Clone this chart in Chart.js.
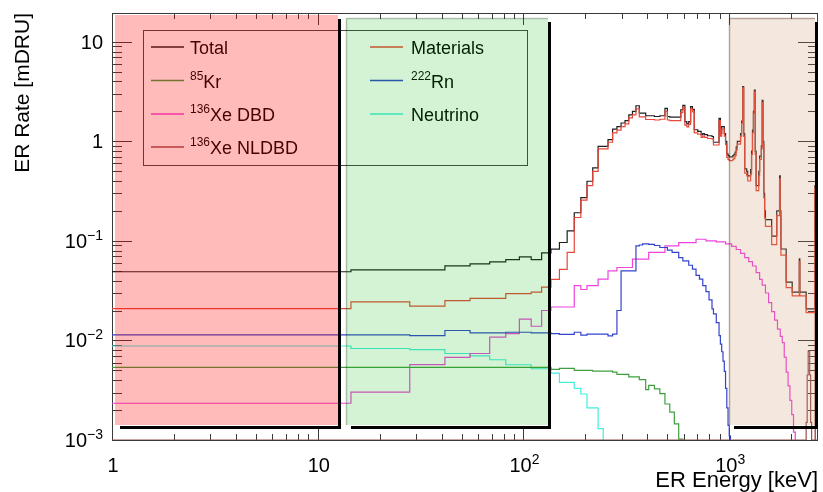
<!DOCTYPE html>
<html>
<head>
<meta charset="utf-8">
<script src="https://cdn.jsdelivr.net/npm/chart.js@4.4.0/dist/chart.umd.min.js"></script>
<style>
  html, body { margin: 0; padding: 0; background: #fff; }
  #wrap { width: 823px; height: 492px; }
</style>
</head>
<body>
<div id="wrap"><canvas id="erChart"></canvas></div>
<script>
// axis ranges
const xMin = 1, xMax = 2700;
const yMin = 1e-3, yMax = 19.5;

// tick labels
const xTickVals = [1, 10, 100, 1000];
const xTickBase = ["1", "10", "10", "10"];
const xTickExp = ["", "", "2", "3"];
const yTickVals = [1e-3, 1e-2, 1e-1, 1, 10];
const yTickBase = ["10", "10", "10", "1", "10"];
const yTickExp = ["\u22123", "\u22122", "\u22121", "", ""];

// series (bin left edge in keV, rate in mDRU)
const totalE = [1, 14.5, 41.5, 55, 68.5, 82, 95.5, 109, 122.5, 136, 149.5, 163, 176.5, 190, 203.5, 217, 230.5, 257.5, 271, 284.5, 298, 311.5, 325, 338.5, 352, 365.5, 392.5, 433, 460, 487, 500.5, 514, 581.5, 595, 608.5, 622, 635.5, 649, 662.5, 676, 703, 730, 743.5, 757, 784, 824.5, 838, 892, 905.5, 919, 946, 959.5, 973, 986.5, 1000, 1040.5, 1054, 1067.5, 1081, 1094.5, 1135, 1148.5, 1162, 1175.5, 1189, 1216, 1229.5, 1270, 1283.5, 1297, 1310.5, 1324, 1337.5, 1351, 1391.5, 1405, 1432, 1445.5, 1459, 1472.5, 1486, 1499.5, 1607.5, 1702, 1756, 1769.5, 1783, 1891, 2023, 2190, 2203.5, 2365, 2608, 2621.5, 2700];
const totalR = [0.049, 0.0513, 0.0562, 0.0589, 0.0617, 0.0649, 0.069, 0.0649, 0.076, 0.0826, 0.0964, 0.126, 0.192, 0.272, 0.398, 0.542, 0.891, 1.04, 1.33, 1.41, 1.53, 1.62, 1.85, 2.0, 2.28, 1.92, 1.81, 1.78, 1.81, 2.15, 1.78, 1.75, 2.08, 2.3, 1.58, 1.5, 1.58, 2.24, 2.1, 1.31, 1.26, 1.17, 1.2, 1.17, 1.14, 1.12, 0.98, 1.7, 1.2, 1.41, 1.2, 1.0, 0.75, 0.72, 0.7, 0.72, 0.74, 0.78, 0.88, 1.0, 1.2, 1.6, 3.55, 1.2, 0.53, 0.5, 0.45, 0.52, 0.8, 1.3, 2.0, 3.28, 0.8, 0.36, 0.5, 0.71, 0.9, 2.58, 1.0, 0.3, 0.2, 0.164, 0.112, 0.2, 0.45, 0.2, 0.083, 0.0385, 0.0306, 0.066, 0.0306, 0.0208, 0.36, 0.0005, 0.0005];

const materialsE = [1, 14.5, 28, 41.5, 55, 82, 109, 122.5, 136, 149.5, 163, 176.5, 190, 203.5, 217, 230.5, 257.5, 271, 284.5, 298, 311.5, 325, 338.5, 352, 365.5, 392.5, 433, 460, 487, 500.5, 514, 581.5, 595, 608.5, 622, 635.5, 649, 662.5, 676, 703, 730, 743.5, 757, 784, 824.5, 838, 892, 905.5, 919, 946, 959.5, 973, 986.5, 1000, 1040.5, 1054, 1067.5, 1081, 1094.5, 1135, 1148.5, 1162, 1175.5, 1189, 1216, 1229.5, 1270, 1283.5, 1297, 1310.5, 1324, 1337.5, 1351, 1391.5, 1405, 1432, 1445.5, 1459, 1472.5, 1486, 1499.5, 1607.5, 1702, 1756, 1769.5, 1783, 1891, 2023, 2190, 2203.5, 2365, 2608, 2621.5, 2700];
const materialsR = [0.0209, 0.0244, 0.0221, 0.0251, 0.0265, 0.0295, 0.0306, 0.0343, 0.0411, 0.0518, 0.0766, 0.172, 0.257, 0.36, 0.5, 0.84, 0.98, 1.22, 1.3, 1.41, 1.5, 1.72, 1.85, 2.12, 1.76, 1.66, 1.64, 1.67, 2.0, 1.64, 1.62, 1.95, 2.18, 1.46, 1.4, 1.48, 2.12, 1.98, 1.22, 1.18, 1.1, 1.13, 1.1, 1.07, 1.06, 0.92, 1.62, 1.13, 1.33, 1.13, 0.93, 0.69, 0.66, 0.64, 0.66, 0.68, 0.72, 0.82, 0.94, 1.13, 1.52, 3.45, 1.12, 0.48, 0.45, 0.4, 0.47, 0.74, 1.22, 1.9, 3.15, 0.74, 0.32, 0.45, 0.66, 0.84, 2.45, 0.93, 0.27, 0.17, 0.14, 0.092, 0.18, 0.42, 0.18, 0.072, 0.034, 0.028, 0.062, 0.028, 0.019, 0.34, 0.0005, 0.0005];

const krE = [1, 136, 149.5, 176.5, 217, 271, 284.5, 325, 365.5, 392.5, 406, 433, 460, 487, 514, 541, 568, 595, 2700];
const krR = [0.00537, 0.00512, 0.00524, 0.00501, 0.00493, 0.0048, 0.00457, 0.0043, 0.00405, 0.0032, 0.00354, 0.00327, 0.00292, 0.0023, 0.00191, 0.00145, 0.00102, 0.0002, 0.0002];

const rnE = [1, 28, 41.5, 55, 82, 109, 136, 149.5, 176.5, 190, 203.5, 257.5, 271, 284.5, 298, 352, 365.5, 379, 406, 433, 460, 500.5, 527.5, 568, 595, 635.5, 662.5, 689.5, 716.5, 743.5, 770.5, 797.5, 824.5, 838, 865, 892, 905.5, 919, 932.5, 946, 959.5, 973, 986.5, 1000, 1013.5, 2700];
const rnR = [0.0114, 0.0112, 0.0126, 0.0119, 0.0121, 0.0119, 0.0117, 0.0115, 0.0121, 0.0113, 0.0116, 0.0111, 0.0116, 0.02, 0.0501, 0.0891, 0.091, 0.0933, 0.0925, 0.09, 0.0859, 0.081, 0.0766, 0.068, 0.0631, 0.057, 0.0521, 0.045, 0.0414, 0.0355, 0.031, 0.0256, 0.0208, 0.0185, 0.0151, 0.0112, 0.0092, 0.0077, 0.0062, 0.0049, 0.0033, 0.0021, 0.0014, 0.0011, 0.0002, 0.0002];

const dbdE = [1, 14.5, 28, 41.5, 55, 68.5, 82, 95.5, 109, 122.5, 136, 176.5, 190, 203.5, 230.5, 257.5, 284.5, 338.5, 406, 487, 568, 689.5, 770.5, 865, 959.5, 1027, 1081, 1135, 1189, 1243, 1297, 1351, 1405, 1445.5, 1499.5, 1553.5, 1607.5, 1661.5, 1715.5, 1769.5, 1810, 1850.5, 1891, 1931.5, 1972, 2012.5, 2053, 2093.5, 2700];
const dbdR = [0.00234, 0.00303, 0.00571, 0.00677, 0.0074, 0.0108, 0.0117, 0.0164, 0.0139, 0.02, 0.0217, 0.0355, 0.0325, 0.0355, 0.0414, 0.0501, 0.0541, 0.0657, 0.0766, 0.0891, 0.0962, 0.104, 0.1, 0.098, 0.0933, 0.088, 0.082, 0.075, 0.068, 0.062, 0.056, 0.048, 0.041, 0.036, 0.03, 0.024, 0.0195, 0.016, 0.013, 0.011, 0.0095, 0.0068, 0.0048, 0.0035, 0.0025, 0.0018, 0.0012, 0.0008, 0.0008];

const nuE = [1, 14.5, 28, 41.5, 55, 68.5, 82, 109, 136, 149.5, 176.5, 190, 203.5, 230.5, 244, 2700];
const nuR = [0.0088, 0.0083, 0.0081, 0.0074, 0.007, 0.0064, 0.0057, 0.0052, 0.0047, 0.0038, 0.0033, 0.0029, 0.0021, 0.0013, 0.0002, 0.0002];

const nldbdE = [1, 2365, 2392, 2419, 2459.5, 2486.5, 2513.5, 2700];
const nldbdR = [0.001, 0.0015, 0.0045, 0.0078, 0.0045, 0.0015, 0.001, 0.001];

// legend text: superscript part + main part, in TLegend fill order
const legendSup = ["", "", "85", "222", "136", "", "136"];
const legendName = ["Total", "Materials", "Kr", "Rn", "Xe DBD", "Neutrino", "Xe NLDBD"];

// shaded energy windows [E low, E high, rate low, rate high]
const regions = [
  { lo: 1.034, hi: 12.5, bot: 0.00141, top: 18.5, fill: "rgba(255,0,0,0.27)", edge: null },
  { lo: 13.7, hi: 131, bot: 0.00141, top: 17.3, fill: "rgba(0,180,0,0.17)", edge: "rgba(0,0,0,0.22)" },
  { lo: 1000, hi: 2620, bot: 0.00141, top: 17.5, fill: "rgba(200,140,90,0.2)", edge: "rgba(60,30,10,0.35)" },
];

const FONT = '"Liberation Sans", Arial, Helvetica, sans-serif';
const colors = ["#1e1e1e", "#e8473a", "#3f9f3f", "#3344cc", "#ee44dd", "#44eedd", "#9a5050"];
const series = [
  [totalE, totalR], [materialsE, materialsR], [krE, krR], [rnE, rnR],
  [dbdE, dbdR], [nuE, nuR], [nldbdE, nldbdR],
];
const drawOrder = [2, 1, 3, 3, 3, 3, 0];

const toPoints = (e, r) => e.map((v, i) => ({ x: v, y: r[i] }));

// text with a superscript, either before (legend) or after (ticks) the base
function richText(ctx, parts, x, y, align, size) {
  const supSize = Math.round(size * 0.68);
  let w = 0;
  parts.forEach((p) => {
    ctx.font = (p.sup ? supSize : size) + "px " + FONT;
    p.w = ctx.measureText(p.t).width;
    w += p.w;
  });
  let cx = align === "right" ? x - w : align === "center" ? x - w / 2 : x;
  ctx.textAlign = "left";
  ctx.textBaseline = "alphabetic";
  parts.forEach((p) => {
    ctx.font = (p.sup ? supSize : size) + "px " + FONT;
    ctx.fillText(p.t, cx, p.sup ? y - size * 0.42 : y);
    cx += p.w;
  });
}

function logTicks(min, max) {
  const out = [];
  for (let k = Math.floor(Math.log10(min)); k <= Math.ceil(Math.log10(max)); k++) {
    for (let d = 1; d <= 9; d++) {
      const v = d * Math.pow(10, k);
      if (v >= min * 0.999 && v <= max * 1.001) out.push({ v, major: d === 1 });
    }
  }
  return out;
}

const framePlugin = {
  id: "rootFrame",
  beforeDatasetsDraw(chart) {
    const { ctx, chartArea: a, scales } = chart;
    ctx.save();
    ctx.strokeStyle = "#3a3a3a";
    ctx.lineWidth = 1;
    ctx.strokeRect(a.left + 0.5, a.top + 0.5, a.right - a.left - 1, a.bottom - a.top);
    ctx.beginPath();
    logTicks(yMin, yMax).forEach((t) => {
      const py = Math.round(scales.y.getPixelForValue(t.v)) + 0.5;
      const len = t.major ? 20 : 10;
      ctx.moveTo(a.left, py); ctx.lineTo(a.left + len, py);
      ctx.moveTo(a.right, py); ctx.lineTo(a.right - len, py);
    });
    logTicks(xMin, xMax).forEach((t) => {
      const px = Math.round(scales.x.getPixelForValue(t.v)) + 0.5;
      const len = t.major ? 12 : 6;
      ctx.moveTo(px, a.bottom); ctx.lineTo(px, a.bottom - len);
      ctx.moveTo(px, a.top); ctx.lineTo(px, a.top + len);
    });
    ctx.stroke();
    ctx.restore();
  },
  afterDatasetsDraw(chart) {
    const { ctx, chartArea: a, scales } = chart;
    ctx.save();
    // legend
    const lx = 143, ly = 30, lw = 384, lh = 135;
    ctx.strokeStyle = "#444";
    ctx.lineWidth = 1;
    ctx.strokeRect(lx + 0.5, ly + 0.5, lw, lh);
    const rows = [47, 80.5, 114, 147];
    const cols = [{ l0: 151, l1: 184, t: 190 }, { l0: 370, l1: 403, t: 411 }];
    legendName.forEach((name, i) => {
      const c = cols[i % 2], ry = rows[Math.floor(i / 2)];
      ctx.strokeStyle = colors[i];
      ctx.lineWidth = 1.3;
      ctx.beginPath();
      ctx.moveTo(c.l0, ry); ctx.lineTo(c.l1, ry);
      ctx.stroke();
      ctx.fillStyle = "#000";
      const parts = [];
      if (legendSup[i]) parts.push({ t: legendSup[i], sup: true });
      parts.push({ t: name });
      richText(ctx, parts, c.t, ry + 7, "left", 18);
    });
    // shaded windows on top, with ROOT-style shadow
    regions.forEach((r) => {
      const x1 = Math.round(scales.x.getPixelForValue(r.lo));
      const x2 = Math.round(scales.x.getPixelForValue(r.hi));
      const y1 = Math.round(scales.y.getPixelForValue(r.top));
      const y2 = Math.round(scales.y.getPixelForValue(r.bot));
      ctx.fillStyle = r.fill;
      ctx.fillRect(x1, y1, x2 - x1, y2 - y1);
      if (r.edge) {
        ctx.strokeStyle = r.edge;
        ctx.lineWidth = 1.5;
        ctx.beginPath();
        ctx.moveTo(x1 + 0.5, y2); ctx.lineTo(x1 + 0.5, y1 + 0.5); ctx.lineTo(x2, y1 + 0.5);
        ctx.stroke();
      }
      ctx.fillStyle = "#000";
      ctx.fillRect(x2, y1 + 4, 3, y2 - y1 - 1);
      ctx.fillRect(x1 + 5, y2 + 1, x2 - x1 - 2, 3);
    });
    ctx.restore();
  },
  afterDraw(chart) {
    const { ctx, chartArea: a, scales } = chart;
    ctx.save();
    ctx.fillStyle = "#000";
    yTickVals.forEach((v, i) => {
      const py = scales.y.getPixelForValue(v);
      const parts = [{ t: yTickBase[i] }];
      if (yTickExp[i]) parts.push({ t: yTickExp[i], sup: true });
      richText(ctx, parts, 103, py + 7, "right", 20);
    });
    xTickVals.forEach((v, i) => {
      const px = scales.x.getPixelForValue(v);
      const parts = [{ t: xTickBase[i] }];
      if (xTickExp[i]) parts.push({ t: xTickExp[i], sup: true });
      richText(ctx, parts, px + 1, 472, "center", 20);
    });
    ctx.font = "22px " + FONT;
    ctx.textAlign = "right";
    ctx.textBaseline = "alphabetic";
    ctx.fillText("ER Energy [keV]", a.right, 487);
    ctx.translate(29, a.top);
    ctx.rotate(-Math.PI / 2);
    ctx.font = "21px " + FONT;
    ctx.fillText("ER Rate [mDRU]", 0, 0);
    ctx.restore();
  },
};

new Chart(document.getElementById("erChart"), {
  type: "line",
  data: {
    datasets: series.map(([e, r], i) => ({
      label: (legendSup[i] ? legendSup[i] + " " : "") + legendName[i],
      data: toPoints(e, r),
      borderColor: colors[i],
      borderWidth: 1.2,
      pointRadius: 0,
      stepped: "before",
      fill: false,
      order: drawOrder[i],
    })),
  },
  options: {
    responsive: true,
    maintainAspectRatio: false,
    animation: false,
    devicePixelRatio: 1,
    layout: { padding: { left: 112, right: 5, top: 13, bottom: 52 } },
    plugins: { legend: { display: false }, tooltip: { enabled: false } },
    scales: {
      x: { type: "logarithmic", min: xMin, max: xMax, display: false },
      y: { type: "logarithmic", min: yMin, max: yMax, display: false },
    },
  },
  plugins: [framePlugin],
});
</script>
</body>
</html>
